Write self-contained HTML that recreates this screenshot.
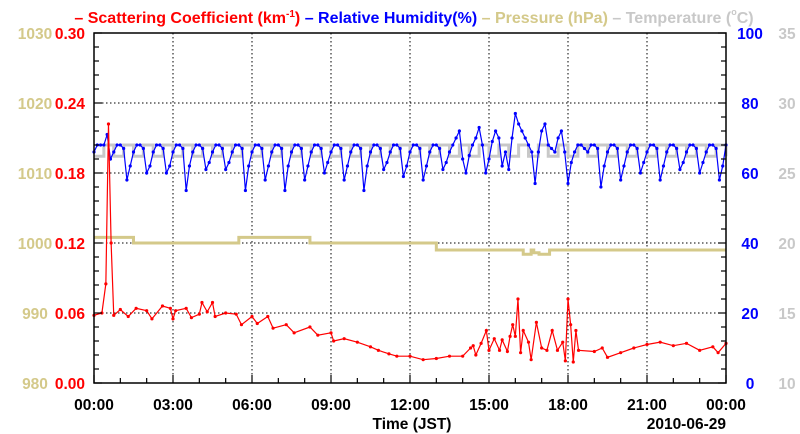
<!DOCTYPE html>
<html><head><meta charset="utf-8"><style>
body{margin:0;background:#fff;width:800px;height:434px;overflow:hidden}
svg{display:block;font-family:"Liberation Sans",sans-serif;font-weight:bold}
</style></head><body>
<svg id="chart" width="800" height="434" viewBox="0 0 800 434" xmlns="http://www.w3.org/2000/svg">
<text x="414" y="23" text-anchor="middle" font-size="16">
<tspan fill="#ff0000">– Scattering Coefficient (km<tspan font-size="10" dy="-6">-1</tspan><tspan dy="6">) </tspan></tspan><tspan fill="#0000ff">– Relative Humidity(%) </tspan><tspan fill="#d4c98a">– Pressure (hPa) </tspan><tspan fill="#c8c8c8">– Temperature (<tspan font-size="9" dy="-8">o</tspan><tspan dy="8">C)</tspan></tspan>
</text>
<g id="grid"></g><g id="series"></g><g id="axes"></g>
</svg>
<script>
const scatT=[0,0.3,0.45,0.55,0.65,0.75,1.0,1.3,1.6,2.0,2.2,2.6,2.9,3.0,3.1,3.5,3.7,4.0,4.1,4.3,4.5,4.6,5.0,5.4,5.6,6.0,6.2,6.6,6.8,7.3,7.6,8.2,8.5,9.0,9.1,9.5,10.0,10.5,10.8,11.2,11.5,12.0,12.5,13.0,13.5,14.0,14.3,14.4,14.5,14.7,14.9,15.0,15.2,15.4,15.5,15.7,15.8,15.9,16.0,16.1,16.2,16.3,16.5,16.6,16.8,17.0,17.2,17.4,17.6,17.8,17.9,18.0,18.1,18.2,18.3,18.4,19.0,19.3,19.5,20.0,20.5,21.0,21.5,22.0,22.5,23.0,23.5,23.7,24.0];
const scatV=[0.058,0.06,0.085,0.222,0.12,0.058,0.063,0.057,0.064,0.062,0.055,0.066,0.064,0.055,0.062,0.064,0.056,0.059,0.069,0.061,0.069,0.057,0.06,0.059,0.05,0.057,0.051,0.057,0.047,0.05,0.043,0.048,0.041,0.043,0.036,0.038,0.035,0.031,0.028,0.025,0.023,0.023,0.02,0.021,0.023,0.023,0.03,0.032,0.024,0.034,0.045,0.028,0.038,0.028,0.037,0.027,0.04,0.05,0.04,0.072,0.026,0.045,0.035,0.02,0.052,0.03,0.028,0.045,0.028,0.035,0.019,0.072,0.05,0.018,0.045,0.028,0.027,0.03,0.022,0.026,0.03,0.033,0.035,0.032,0.034,0.028,0.031,0.026,0.034];
const rhStep=0.125;
const rhV=[
66,68,68,68,71,64,
66,68,68,67,58,62,
66,68,68,67,60,62,
66,68,68,67,60,62,
66,68,68,67,55,62,
66,68,68,67,61,63,
66,68,68,67,61,63,
66,68,68,67,55,62,
66,68,68,67,58,62,
66,68,68,67,55,62,
66,68,68,67,58,62,
66,68,68,67,60,63,
66,68,68,67,58,62,
66,68,68,67,55,62,
66,68,68,67,61,63,
66,68,68,67,59,62,
66,68,68,67,58,62,
66,68,68,67,61,63,
66,68,70,72,64,60,
65,68,70,73,68,60,
64,69,72,70,62,66,
61,70,77,74,72,70,
68,66,57,66,72,74,
68,67,66,70,72,66,
57,63,66,68,68,67,
66,68,68,67,56,62,
66,68,68,67,58,62,
66,68,68,67,60,63,
66,68,68,67,58,62,
66,68,68,67,61,63,
66,68,68,67,60,63,
66,68,68,67,58,62,
68];
const tempStep=0.375;
const tempV=[26.2,27,26.2,27,26.2,27,26.2,27,26.2,27,26.2,27,26.2,27,26.2,27,26.2,27,26.2,27,26.2,27,26.2,27,26.2,27,26.2,27,26.2,27,26.2,27,26.2,27,26.2,27,26.2,27,26.2,27,26.2,27,26.2,27,26.2,27,26.2,27,26.2,27,26.2,27,26.2,27,26.2,27,26.2,27,26.2,27,26.2,27,26.2,27,26.2];
const presT=[0,1.5,5.5,8.2,12.9,13.0,13.3,13.4,16.3,16.6,16.7,16.9,17.3,24];
const presV=[1000.8,1000,1000.8,1000,1000,999,999,999,998.4,999,998.6,998.4,999,999];
const xTicks=["00:00","03:00","06:00","09:00","12:00","15:00","18:00","21:00","00:00"];
const scatTicks=["0.00","0.06","0.12","0.18","0.24","0.30"];
const presTicks=["980","990","1000","1010","1020","1030"];
const rhTicks=["0","20","40","60","80","100"];
const tempTicks=["10","15","20","25","30","35"];

const L=94,R=726,T=33,B=383;
const NS="http://www.w3.org/2000/svg";
const x=h=>L+(R-L)*h/24;
const yS=v=>B-(B-T)*v/0.30;
const yRH=v=>B-(B-T)*v/100;
const yP=v=>B-(B-T)*(v-980)/50;
const yT=v=>B-(B-T)*(v-10)/25;
function mk(tag,attrs,parent){const e=document.createElementNS(NS,tag);for(const k in attrs)e.setAttribute(k,attrs[k]);parent.appendChild(e);return e;}
const grid=document.getElementById('grid'),ser=document.getElementById('series'),ax=document.getElementById('axes');
for(let i=1;i<8;i++){const g=mk('line',{x1:x(i*3),x2:x(i*3),y1:T,y2:B,stroke:'#000','stroke-width':1,'stroke-dasharray':'1.5,2.5'},grid);

}
for(let i=1;i<5;i++){const g=mk('line',{x1:L,x2:R,y1:yS(i*0.06),y2:yS(i*0.06),stroke:'#000','stroke-width':1,'stroke-dasharray':'1.5,2.5'},grid);

}
function line(pts,color,w,name,dots){
  const p=mk('polyline',{points:pts.map(q=>q.join(',')).join(' '),fill:'none',stroke:color,'stroke-width':w},ser);
  
  
  if(dots){for(const q of pts){const c=mk('circle',{cx:q[0],cy:q[1],r:1.6,fill:color},ser);
    
    }}
}
line(tempV.map((v,i)=>[x(i*tempStep),yT(v)]).flatMap((q,i,a)=>i?[[q[0],a[i-1][1]],q]:[q]),'#c8c8c8',3,'temperature-line',false);
{const pts=[];for(let i=0;i<presT.length;i++){if(i)pts.push([x(presT[i]),yP(presV[i-1])]);pts.push([x(presT[i]),yP(presV[i])]);}
line(pts,'#d4c98a',3,'pressure-line',false);}
line(rhV.map((v,i)=>[x(i*rhStep),yRH(v)]),'#0000ff',1.2,'humidity-line',true);
line(scatT.map((t,i)=>[x(t),yS(scatV[i])]),'#ff0000',1.2,'scattering-line',true);
const f=mk('rect',{x:L,y:T,width:R-L,height:B-T,fill:'none',stroke:'#000','stroke-width':1.5},ax);


for(let i=0;i<=24;i++){const len=i%3==0?8:5;
 const t=mk('line',{x1:x(i),x2:x(i),y1:B,y2:B-len,stroke:'#000','stroke-width':1.2},ax);
 
 }
for(let i=0;i<=25;i++){const yy=B-(B-T)*i/25;const len=i%5==0?8:5;
 const a=mk('line',{x1:L,x2:L+len,y1:yy,y2:yy,stroke:'#000','stroke-width':1.2},ax);
 
 
 const b=mk('line',{x1:R,x2:R-len,y1:yy,y2:yy,stroke:'#000','stroke-width':1.2},ax);
 
 }
function txt(s,xx,yy,anchor,color,name){const e=mk('text',{x:xx,y:yy,'text-anchor':anchor,fill:color,'font-size':15.5},ax);e.textContent=s;
 
 return e;}
xTicks.forEach((s,i)=>txt(s,x(i*3),410,'middle','#000','x-tick-label'));
scatTicks.forEach((s,i)=>txt(s,85,yS(i*0.06)+6,'end','#ff0000','scattering-tick-label'));
presTicks.forEach((s,i)=>txt(s,35,yP(980+i*10)+6,'middle','#d4c98a','pressure-tick-label'));
rhTicks.forEach((s,i)=>txt(s,750,yRH(i*20)+6,'middle','#0000ff','humidity-tick-label'));
tempTicks.forEach((s,i)=>txt(s,787,yT(10+i*5)+6,'middle','#c8c8c8','temperature-tick-label'));
txt('Time (JST)',412,429,'middle','#000','x-axis-title');
txt('2010-06-29',726,429,'end','#000','date-label');
</script>
</body></html>
